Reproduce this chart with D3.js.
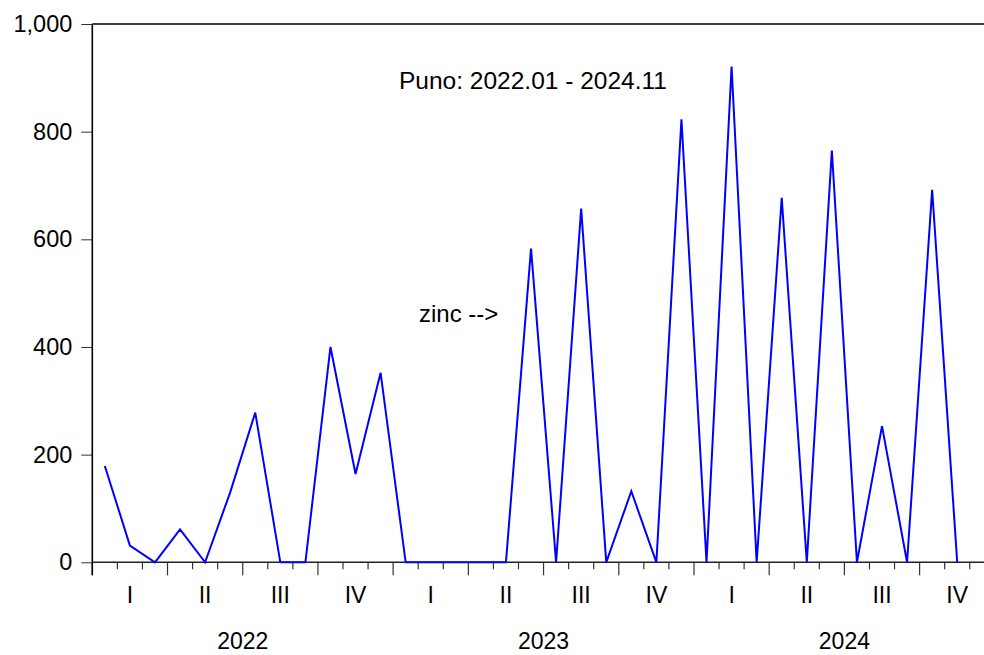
<!DOCTYPE html>
<html>
<head>
<meta charset="utf-8">
<script src="https://cdn.jsdelivr.net/npm/d3@7/dist/d3.min.js"></script>
<style>
  html, body { margin: 0; padding: 0; background: #fff; }
  svg { display: block; }
  text { font-family: "Liberation Sans", Arial, sans-serif; fill: #000; }
</style>
</head>
<body>
<svg id="chart" width="984" height="655"></svg>
<script>
// ---- data ----
const months = ["2022.01","2022.02","2022.03","2022.04","2022.05","2022.06","2022.07","2022.08","2022.09","2022.10","2022.11","2022.12",
                "2023.01","2023.02","2023.03","2023.04","2023.05","2023.06","2023.07","2023.08","2023.09","2023.10","2023.11","2023.12",
                "2024.01","2024.02","2024.03","2024.04","2024.05","2024.06","2024.07","2024.08","2024.09","2024.10","2024.11"];
const zinc = [179, 31, 0, 61, 0, 130, 278, 0, 0, 400, 164, 352,
              0, 0, 0, 0, 0, 583, 0, 657, 0, 132, 0, 823,
              0, 921, 0, 677, 0, 765, 0, 253, 0, 692, 0];
const yTicks = [0, 200, 400, 600, 800, 1000];
const quarterLabels = ["I", "II", "III", "IV"];
const years = ["2022", "2023", "2024"];
const titleText = "Puno: 2022.01 - 2024.11";
const seriesLabel = "zinc -->";

// ---- layout ----
const svg = d3.select("#chart");
const plotLeft = 92.3, plotTop = 24, plotBottom = 562.3, monthW = 25.07;
const nMonths = months.length; // 35
const x = d3.scaleLinear().domain([0, nMonths]).range([plotLeft, plotLeft + nMonths * monthW]);
const y = d3.scaleLinear().domain([0, 1000]).range([plotBottom, plotTop]);
const rightEdge = 984;
const fontSize = 23;

// y axis ticks & labels
const yAxis = d3.axisLeft(y).tickValues(yTicks).tickSize(11).tickPadding(9)
  .tickFormat(d3.format(","));
const gy = svg.append("g").attr("transform", `translate(${plotLeft},0)`).call(yAxis);
gy.select(".domain").remove();
gy.selectAll(".tick line").attr("stroke", "#333").attr("stroke-width", 1);
gy.selectAll(".tick text").style("font-size", "23.5px").attr("fill", "#000")
  .style("font-family", '"Liberation Sans", Arial, sans-serif');

// x axis ticks (month boundaries)
const boundaries = d3.range(0, nMonths + 1);
svg.append("g").selectAll("line").data(boundaries).join("line")
  .attr("x1", d => x(d)).attr("x2", d => x(d))
  .attr("y1", plotBottom).attr("y2", d => plotBottom + (d % 3 === 0 ? 13 : 7))
  .attr("stroke", "#333").attr("stroke-width", 1.2);

// frame lines
svg.append("line").attr("x1", plotLeft).attr("x2", rightEdge).attr("y1", plotTop).attr("y2", plotTop)
  .attr("stroke", "#000").attr("stroke-width", 1.6);
svg.append("line").attr("x1", plotLeft).attr("x2", rightEdge).attr("y1", plotBottom).attr("y2", plotBottom)
  .attr("stroke", "#222").attr("stroke-width", 1.6);
svg.append("line").attr("x1", plotLeft).attr("x2", plotLeft).attr("y1", plotTop).attr("y2", plotBottom + 13)
  .attr("stroke", "#000").attr("stroke-width", 1.6);

// quarter labels
const quarters = d3.range(0, Math.ceil(nMonths / 3));
svg.append("g").selectAll("text").data(quarters).join("text")
  .attr("x", q => x(q * 3 + 1.5)).attr("y", 603)
  .attr("text-anchor", "middle").style("font-size", fontSize + "px")
  .text(q => quarterLabels[q % 4]);

// year labels
svg.append("g").selectAll("text").data(years).join("text")
  .attr("x", (d, i) => x(i * 12 + 6)).attr("y", 649)
  .attr("text-anchor", "middle").style("font-size", fontSize + "px")
  .text(d => d);

// line
const line = d3.line().x((d, i) => x(i + 0.5)).y(d => y(d));
svg.append("path").datum(zinc).attr("d", line)
  .attr("fill", "none").attr("stroke", "#0000ff").attr("stroke-width", 2)
  .attr("stroke-linejoin", "miter");

// annotations
svg.append("text").attr("x", 399).attr("y", 89).style("font-size", "24.5px").text(titleText);
svg.append("text").attr("x", 419).attr("y", 322).style("font-size", "24px").text(seriesLabel);
</script>
</body>
</html>
